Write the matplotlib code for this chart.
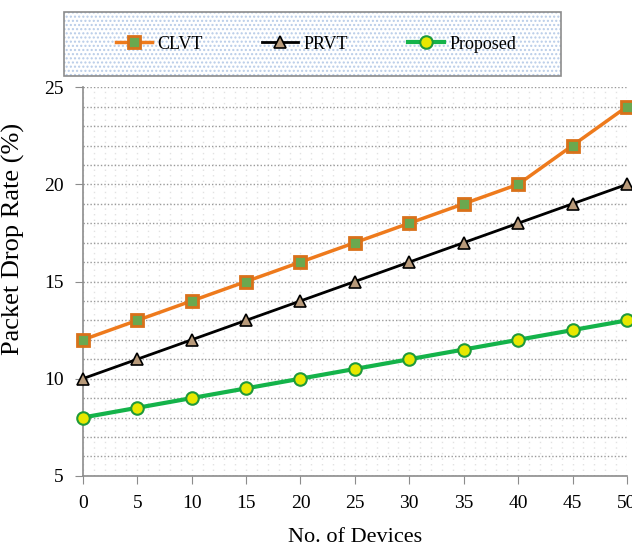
import matplotlib.pyplot as plt
from matplotlib.patches import Rectangle
from matplotlib.ticker import MultipleLocator

devices = [0, 5, 10, 15, 20, 25, 30, 35, 40, 45, 50]
clvt = [12, 13, 14, 15, 16, 17, 18, 19, 20, 22, 24]
prvt = [10, 11, 12, 13, 14, 15, 16, 17, 18, 19, 20]
proposed = [8, 8.5, 9, 9.5, 10, 10.5, 11, 11.5, 12, 12.5, 13]

plt.rcParams['font.family'] = ['Liberation Serif', 'DejaVu Serif']

fig = plt.figure(figsize=(6.32, 5.52), dpi=100)
ax = fig.add_axes([0.131, 0.138, 0.861, 0.704])

# legend box with dotted fill
fig.patches.append(Rectangle((0.101, 0.862), 0.787, 0.116, transform=fig.transFigure,
                             facecolor='white', edgecolor='#b8cce8', hatch='....', lw=0))
fig.patches.append(Rectangle((0.101, 0.862), 0.787, 0.116, transform=fig.transFigure,
                             facecolor='none', edgecolor='#8c8c8c', lw=1.2))

ax.plot(devices, clvt, '-s', color='#ee7a1c', lw=2.5, ms=9, mfc='#6aa84f',
        mec='#d9711a', mew=2, label='CLVT', clip_on=False, zorder=4)
ax.plot(devices, prvt, '-^', color='black', lw=2, ms=9, mfc='#b89a7a',
        mec='black', mew=1.2, label='PRVT', clip_on=False, zorder=4)
ax.plot(devices, proposed, '-o', color='#14b34a', lw=3, ms=9, mfc='#e8e800',
        mec='#1f9a3a', mew=1.5, label='Proposed', clip_on=False, zorder=4)

ax.set_xlim(0, 50)
ax.set_ylim(5, 25)
ax.xaxis.set_major_locator(MultipleLocator(5))
ax.yaxis.set_major_locator(MultipleLocator(5))
ax.xaxis.set_minor_locator(MultipleLocator(1))
ax.yaxis.set_minor_locator(MultipleLocator(1))
ax.tick_params(which='minor', length=0)
ax.tick_params(which='major', length=6, color='#8c8c8c', labelsize=14, pad=8)

ax.grid(True, which='both', axis='y', color='#9a9a9a', ls=(0, (1, 1.5)), lw=1)
ax.grid(True, which='both', axis='x', color='#e2e2e2', ls=(0, (1, 3)), lw=1)
ax.set_axisbelow(True)

for s in ['top', 'right']:
    ax.spines[s].set_visible(False)
for s in ['left', 'bottom']:
    ax.spines[s].set_color('#8c8c8c')
    ax.spines[s].set_linewidth(1.2)

ax.set_xlabel('No. of Devices', fontsize=16)
ax.xaxis.set_label_coords(0.5, -0.135)
ax.set_ylabel('Packet Drop Rate (%)', fontsize=19)
ax.yaxis.set_label_coords(-0.107, 0.61)

fig.legend(loc='center', bbox_to_anchor=(0.5, 0.92), ncol=3, frameon=False,
           fontsize=13, handlelength=2, columnspacing=3.3, handletextpad=0.3)

fig.savefig('out.png', dpi=100)
